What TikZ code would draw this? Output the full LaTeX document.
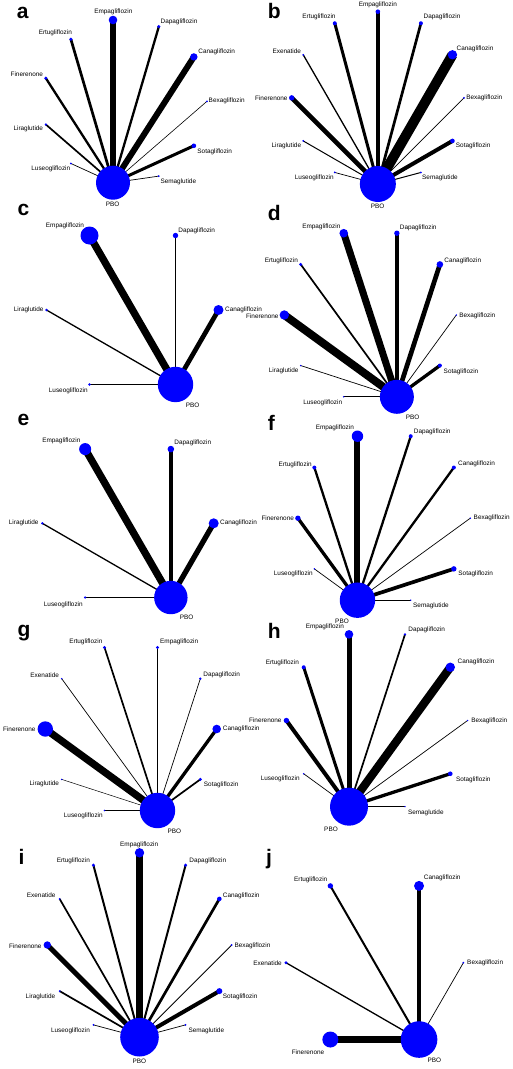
\documentclass[tikz,border=0pt]{standalone}
\usepackage{fontspec}
\setmainfont{Liberation Sans}
\pgfdeclarelayer{bg}
\pgfsetlayers{bg,main}
\definecolor{netblue}{RGB}{0,0,255}
\newcommand{\lblfont}{\fontsize{6.4}{7}\selectfont}
\newcommand{\panelfont}{\fontsize{21}{24}\selectfont\bfseries}
\tikzset{
  dot/.style={circle, fill=netblue, draw=none, inner sep=0pt},
  lbl/.style={font=\lblfont, inner sep=0pt, text=black},
  edge/.style={draw=black, line cap=butt},
  panel/.style={font=\panelfont, inner sep=0pt, anchor=base west},
}
\newcommand{\setnet}[4]{\def\pcx{#1}\def\pcy{#2}\def\pR{#3}\def\pstep{#4}}
% hub: name, index, radius, label x, label y
\newcommand{\hub}[5]{%
  \node[dot, minimum size=#3*2pt] (#1) at ({\pcx+\pR*cos(#2*\pstep)},{\pcy-\pR*sin(#2*\pstep)}) {};
  \node[lbl] (#1L) at (#4,#5) {PBO};
  \def\hubname{#1}}
% drug: name, index, radius, width, anchor, label x, label y, text
\newcommand{\drug}[8]{%
  \node[dot, minimum size=#3*2pt] (#1) at ({\pcx+\pR*cos(#2*\pstep)},{\pcy-\pR*sin(#2*\pstep)}) {};
  \node[lbl, anchor=#5] (#1L) at (#6,#7) {#8};
  \begin{pgfonlayer}{bg}\draw[edge, line width=#4pt] (#1.center) -- (\hubname.center);\end{pgfonlayer}}
\begin{document}
\begin{tikzpicture}[x=1pt,y=-1pt]
\useasboundingbox (0,0) rectangle (512,1069);
\begin{pgfonlayer}{bg}\fill[white] (0,0) rectangle (512,1069);\end{pgfonlayer}
% panel letters
\node[panel] (La) at (16.7,18.3) {a};
\node[panel] (Lb) at (267.7,18.3) {b};
\node[panel] (Lc) at (17.3,215.7) {c};
\node[panel] (Ld) at (267.7,220.7) {d};
\node[panel] (Le) at (17.3,425.7) {e};
\node[panel] (Lf) at (267.7,430) {f};
\node[panel] (Lg) at (17.3,636.7) {g};
\node[panel] (Lh) at (267.7,638.3) {h};
\node[panel] (Li) at (18.3,864.3) {i};
\node[panel] (Lj) at (266,864.3) {j};
% ---- a
\setnet{124.7}{101.35}{82.2}{32.7273}
\hub{aP}{8}{17}{112.7}{204}
\drug{aBex}{0}{1}{0.6}{center}{226.7}{100.7}{Bexagliflozin}
\drug{aCan}{1}{3.7}{6}{center}{216.7}{52.3}{Canagliflozin}
\drug{aDap}{2}{1.7}{2.3}{center}{179}{21.7}{Dapagliflozin}
\drug{aEmp}{3}{4.3}{6}{center}{113.3}{11.7}{Empagliflozin}
\drug{aErt}{4}{1.7}{2.7}{center}{55.3}{33.3}{Ertugliflozin}
\drug{aFin}{5}{1.7}{2.3}{center}{26.8}{74}{Finerenone}
\drug{aLir}{6}{1.3}{1.7}{center}{28.3}{129}{Liraglutide}
\drug{aLus}{7}{1}{0.7}{center}{50.8}{169.3}{Luseogliflozin}
\drug{aSem}{9}{1}{0.7}{center}{178.3}{182.3}{Semaglutide}
\drug{aSot}{10}{2.3}{3}{center}{214.7}{151.7}{Sotagliflozin}
% ---- b
\setnet{377.85}{97.85}{86.15}{30}
\hub{bP}{9}{18}{377.7}{206}
\drug{bBex}{0}{1}{0.7}{center}{484.3}{98.3}{Bexagliflozin}
\drug{bCan}{1}{4.7}{10}{center}{475}{49.3}{Canagliflozin}
\drug{bDap}{2}{2}{2.7}{center}{442}{17.3}{Dapagliflozin}
\drug{bEmp}{3}{2.3}{3.7}{center}{377.8}{5}{Empagliflozin}
\drug{bErt}{4}{2}{3}{center}{319}{17.3}{Ertugliflozin}
\drug{bExe}{5}{1}{1.3}{center}{286.8}{51}{Exenatide}
\drug{bFin}{6}{2.7}{4.7}{east}{287.7}{98.3}{Finerenone}
\drug{bLir}{7}{1}{1}{center}{286.3}{145.7}{Liraglutide}
\drug{bLus}{8}{1}{0.7}{center}{314.3}{177.7}{Luseogliflozin}
\drug{bSem}{10}{1}{1}{center}{440}{177.7}{Semaglutide}
\drug{bSot}{11}{2.3}{4}{center}{473.2}{145.7}{Sotagliflozin}
% ---- c
\setnet{132.5}{310}{86}{60}
\hub{cP}{5}{17.7}{192.7}{405.7}
\drug{cCan}{0}{5}{4.7}{west}{225}{310}{Canagliflozin}
\drug{cDap}{1}{2.7}{1.3}{center}{196.7}{230.7}{Dapagliflozin}
\drug{cEmp}{2}{9}{7.3}{center}{65}{225.7}{Empagliflozin}
\drug{cLir}{3}{1.3}{1.3}{center}{28.7}{310}{Liraglutide}
\drug{cLus}{4}{1.3}{1.3}{center}{68.3}{391}{Luseogliflozin}
% ---- d
\setnet{370.3}{315}{86}{36}
\hub{dP}{8}{17}{412.7}{417.7}
\drug{dBex}{0}{0.8}{0.7}{center}{477.3}{315.7}{Bexagliflozin}
\drug{dCan}{1}{3.3}{4.7}{center}{462.8}{260.7}{Canagliflozin}
\drug{dDap}{2}{2.7}{4}{center}{418.2}{228.3}{Dapagliflozin}
\drug{dEmp}{3}{4.3}{7}{center}{321.3}{226.7}{Empagliflozin}
\drug{dErt}{4}{1.7}{1.7}{center}{281.3}{261}{Ertugliflozin}
\drug{dFin}{5}{4.7}{8}{east}{278.7}{316.7}{Finerenone}
\drug{dLir}{6}{0.8}{0.7}{center}{283.7}{371}{Liraglutide}
\drug{dLus}{7}{0.8}{0.7}{center}{322.7}{402.7}{Luseogliflozin}
\drug{dSot}{9}{2}{3.3}{center}{461}{371.7}{Sotagliflozin}
% ---- e
\setnet{128}{523.3}{85.7}{60}
\hub{eP}{5}{16.7}{186.7}{617.3}
\drug{eCan}{0}{5}{5.3}{west}{220}{523.3}{Canagliflozin}
\drug{eDap}{1}{3.3}{4}{center}{192.8}{442.7}{Dapagliflozin}
\drug{eEmp}{2}{6}{7.3}{center}{61.3}{441}{Empagliflozin}
\drug{eLir}{3}{1.3}{1.3}{center}{23.7}{523.3}{Liraglutide}
\drug{eLus}{4}{1.3}{1.7}{center}{63.3}{605}{Luseogliflozin}
% ---- f
\setnet{384.1}{518.2}{86.2}{36}
\hub{fP}{7}{17.7}{342}{621}
\drug{fBex}{0}{0.8}{0.7}{center}{491.7}{518.3}{Bexagliflozin}
\drug{fCan}{1}{2}{2.3}{center}{476.5}{464}{Canagliflozin}
\drug{fDap}{2}{2}{2.3}{center}{432.2}{431.7}{Dapagliflozin}
\drug{fEmp}{3}{5.7}{6}{center}{334.8}{428.3}{Empagliflozin}
\drug{fErt}{4}{2}{2.3}{center}{295.2}{465}{Ertugliflozin}
\drug{fFin}{5}{2.7}{3.3}{center}{277.7}{518.3}{Finerenone}
\drug{fLus}{6}{0.8}{0.7}{center}{293.3}{574}{Luseogliflozin}
\drug{fSem}{8}{0.8}{0.7}{center}{431}{605.7}{Semaglutide}
\drug{fSot}{9}{2.7}{3.7}{center}{475.7}{574.3}{Sotagliflozin}
% ---- g
\setnet{131}{729}{85.7}{36}
\hub{gP}{8}{17.7}{174.3}{831}
\drug{gCan}{0}{4.3}{3.3}{west}{222.7}{729.3}{Canagliflozin}
\drug{gDap}{1}{1.3}{0.7}{center}{221.7}{675}{Dapagliflozin}
\drug{gEmp}{2}{1.7}{1.3}{center}{179.2}{642.3}{Empagliflozin}
\drug{gErt}{3}{1.7}{1.7}{center}{85.8}{642.3}{Ertugliflozin}
\drug{gExe}{4}{0.8}{0.7}{center}{44.7}{675}{Exenatide}
\drug{gFin}{5}{7.7}{7.3}{center}{19.3}{729}{Finerenone}
\drug{gLir}{6}{0.8}{0.5}{center}{44.3}{784}{Liraglutide}
\drug{gLus}{7}{0.8}{0.7}{center}{83.3}{816}{Luseogliflozin}
\drug{gSot}{9}{1.7}{1.7}{center}{221.2}{785}{Sotagliflozin}
% ---- h
\setnet{377}{720.5}{90.6}{36}
\hub{hP}{7}{19}{331}{829}
\drug{hBex}{0}{0.8}{0.7}{center}{489.3}{720.7}{Bexagliflozin}
\drug{hCan}{1}{4.7}{8.3}{center}{476}{662.3}{Canagliflozin}
\drug{hDap}{2}{1.3}{1.7}{center}{426.7}{630}{Dapagliflozin}
\drug{hEmp}{3}{4.3}{5}{center}{324.8}{627.3}{Empagliflozin}
\drug{hErt}{4}{2}{3}{center}{282.3}{663.3}{Ertugliflozin}
\drug{hFin}{5}{2.7}{4}{east}{281.7}{720.3}{Finerenone}
\drug{hLus}{6}{0.8}{0.7}{center}{280.2}{779.3}{Luseogliflozin}
\drug{hSem}{8}{0.8}{1}{center}{425.8}{812.7}{Semaglutide}
\drug{hSot}{9}{2.3}{3.3}{center}{473.3}{780}{Sotagliflozin}
% ---- i
\setnet{139.5}{945}{92.2}{30}
\hub{iP}{9}{19.3}{139.3}{1061.7}
\drug{iBex}{0}{1}{1}{west}{234.3}{945.7}{Bexagliflozin}
\drug{iCan}{1}{2.3}{2.7}{west}{222.7}{895.7}{Canagliflozin}
\drug{iDap}{2}{1.7}{2}{center}{207.8}{860.7}{Dapagliflozin}
\drug{iEmp}{3}{4.7}{6.7}{center}{139.2}{845}{Empagliflozin}
\drug{iErt}{4}{1.7}{2}{center}{73.3}{860.7}{Ertugliflozin}
\drug{iExe}{5}{1}{1.7}{center}{41.2}{895.7}{Exenatide}
\drug{iFin}{6}{3.7}{5}{east}{41.7}{945.7}{Finerenone}
\drug{iLir}{7}{1}{1.7}{center}{40.5}{996.7}{Liraglutide}
\drug{iLus}{8}{1}{0.7}{center}{70.5}{1031}{Luseogliflozin}
\drug{iSem}{10}{1}{0.7}{center}{206.3}{1031}{Semaglutide}
\drug{iSot}{11}{3}{4}{west}{222.7}{997}{Sotagliflozin}
% ---- j
\setnet{374.7}{962.7}{88.7}{60}
\hub{jP}{5}{18.3}{434.3}{1060}
\drug{jBex}{0}{1}{0.7}{center}{485.2}{962.7}{Bexagliflozin}
\drug{jCan}{1}{5}{4.7}{center}{442.2}{877.7}{Canagliflozin}
\drug{jErt}{2}{2.7}{2}{center}{310.7}{880}{Ertugliflozin}
\drug{jExe}{3}{1.7}{1.3}{east}{282}{962.7}{Exenatide}
\drug{jFin}{4}{8}{7.3}{center}{308}{1052.3}{Finerenone}
\end{tikzpicture}
\end{document}
